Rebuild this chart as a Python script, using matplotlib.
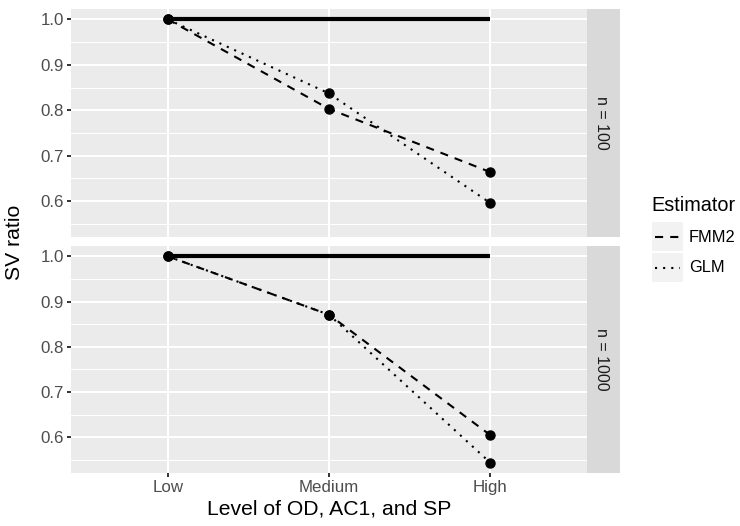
import matplotlib
matplotlib.use("Agg")
import matplotlib.pyplot as plt
from matplotlib.lines import Line2D
from matplotlib.patches import Rectangle

plt.rcParams['font.family'] = ['Liberation Sans', 'DejaVu Sans']

levels = ["Low", "Medium", "High"]
facets = ["n = 100", "n = 1000"]
fmm2 = {"n = 100": [1.0, 0.803, 0.664], "n = 1000": [1.0, 0.871, 0.605]}
glm = {"n = 100": [1.0, 0.837, 0.596], "n = 1000": [1.0, 0.871, 0.544]}
reference = [1.0, 1.0, 1.0]
yticks = [0.6, 0.7, 0.8, 0.9, 1.0]
minor_y = [0.55, 0.65, 0.75, 0.85, 0.95]

W, H = 740, 526
fig = plt.figure(figsize=(W / 100, H / 100), dpi=100)

def rect(x0, y0, x1, y1):
    return [x0 / W, 1 - y1 / H, (x1 - x0) / W, (y1 - y0) / H]

panels = [(9, 237), (246, 473)]
xpos = [1, 2, 3]
allvals = [v for d in (fmm2, glm) for f in facets for v in d[f]] + reference
lo, hi = min(allvals), max(allvals)
pad = (hi - lo) * 0.05
ylim = (lo - pad, hi + pad)

LW = 1.5
DASH = (3.9, 3.4)
DOT = (1.0, 2.9)
TICK_FS = 12.2
TITLE_FS = 15.2

for i, (facet, (y0, y1)) in enumerate(zip(facets, panels)):
    ax = fig.add_axes(rect(71, y0, 587, y1))
    ax.set_facecolor("#EBEBEB")
    for s in ax.spines.values():
        s.set_visible(False)
    ax.set_xlim(0.4, 3.6)
    ax.set_ylim(*ylim)
    for m in minor_y:
        ax.axhline(m, color="white", lw=0.75, zorder=0)
    for t in yticks:
        ax.axhline(t, color="white", lw=1.5, zorder=0)
    for xp in xpos:
        ax.axvline(xp, color="white", lw=1.5, zorder=0)
    ax.set_yticks(yticks)
    ax.set_yticklabels([f"{t:.1f}" for t in yticks])
    ax.set_xticks(xpos)
    ax.tick_params(axis="both", colors="#333333", length=3.0, width=1.4,
                   labelsize=TICK_FS, labelcolor="#4D4D4D", pad=2.2)
    if i == 0:
        ax.set_xticklabels([])
        ax.tick_params(axis="x", length=0)
    else:
        ax.set_xticklabels(levels)

    ax.plot(xpos, reference, color="black", lw=3.0, solid_capstyle="butt", zorder=3)
    l1, = ax.plot(xpos, fmm2[facet], color="black", lw=LW, zorder=3)
    l1.set_dashes(DASH)
    l2, = ax.plot(xpos, glm[facet], color="black", lw=LW, zorder=3)
    l2.set_dashes(DOT)
    ax.plot(xpos, fmm2[facet], "o", color="black", ms=6.5, zorder=4)
    ax.plot(xpos, glm[facet], "o", color="black", ms=6.5, zorder=4)

    sax = fig.add_axes(rect(587, y0, 620, y1))
    sax.set_facecolor("#D9D9D9")
    sax.set_xticks([]); sax.set_yticks([])
    for s in sax.spines.values():
        s.set_visible(False)
    sax.text(0.45, 0.5, facet, rotation=-90, ha="center", va="center",
             fontsize=11.5, color="#1A1A1A", transform=sax.transAxes)

fig.text(15 / W, 1 - 242 / H, "SV ratio", rotation=90, ha="center", va="center",
         fontsize=TITLE_FS, color="black")
fig.text(329 / W, 1 - 509 / H, "Level of OD, AC1, and SP", ha="center", va="center",
         fontsize=TITLE_FS, color="black")

# legend
fig.text(651 / W, 1 - 205 / H, "Estimator", ha="left", va="center", fontsize=14.3)
lax = fig.add_axes([0, 0, 1, 1], facecolor="none")
lax.set_xlim(0, W); lax.set_ylim(H, 0)
lax.axis("off")
for k, (lab, d, yc) in enumerate([("FMM2", DASH, 237), ("GLM", DOT, 268)]):
    lax.add_patch(Rectangle((652, yc - 15), 31, 29, facecolor="#F2F2F2", edgecolor="none"))
    ln = Line2D([655, 680], [yc, yc], color="black", lw=LW)
    ln.set_dashes(d)
    lax.add_line(ln)
    lax.text(689, yc, lab, ha="left", va="center", fontsize=11.8, color="black")

fig.savefig("out.png", dpi=100, facecolor="white")
